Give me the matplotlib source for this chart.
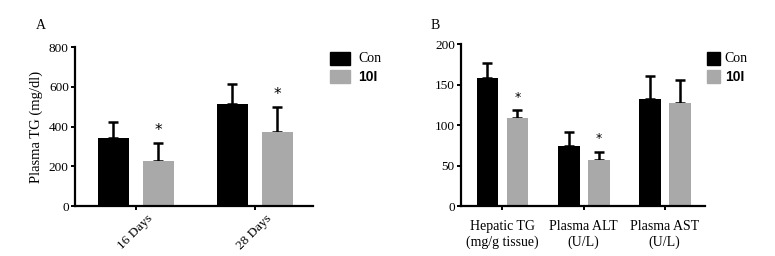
import matplotlib
matplotlib.use("Agg")
import matplotlib.pyplot as plt
import numpy as np

# panel A data
days = ["16 Days", "28 Days"]
tg_con = [342, 513]
tg_con_err = [81, 101]
tg_10i = [226, 372]
tg_10i_err = [91, 126]

# panel B data
params = ["Hepatic TG\n(mg/g tissue)", "Plasma ALT\n(U/L)", "Plasma AST\n(U/L)"]
b_con = [158, 74, 132]
b_con_err = [18, 17, 29]
b_10i = [109, 57, 127]
b_10i_err = [9, 10, 28]
b_sig = [True, True, False]

serif = "Liberation Serif"
plt.rcParams["font.family"] = serif

fig = plt.figure(figsize=(7.75, 2.56), dpi=100)
axA = fig.add_axes([0.0968, 0.195, 0.307, 0.621])
axB = fig.add_axes([0.595, 0.195, 0.315, 0.633])

gray = "#a9a9a9"


def style(ax):
    for s in ["top", "right"]:
        ax.spines[s].set_visible(False)
    for s in ["left", "bottom"]:
        ax.spines[s].set_linewidth(1.6)
    ax.tick_params(width=1.4, length=3, labelsize=9.5, pad=1.5)


def bars(ax, con, con_err, tr, tr_err, w, off):
    x = np.arange(len(con))
    ekw = dict(elinewidth=1.8, capsize=3.5, capthick=1.8, ecolor="black")
    ax.bar(x - off, con, w, color="black", zorder=2)
    ax.bar(x + off, tr, w, color=gray, zorder=2)
    ax.errorbar(x - off, con, yerr=[np.zeros(len(con)), con_err], fmt="none", zorder=1, **ekw)
    ax.errorbar(x + off, tr, yerr=[np.zeros(len(tr)), tr_err], fmt="none", zorder=1, **ekw)
    return x


# panel A
x = bars(axA, tg_con, tg_con_err, tg_10i, tg_10i_err, 0.26, 0.19)
axA.set_xlim(-0.51, 1.49)
axA.set_ylim(0, 800)
axA.set_yticks([0, 200, 400, 600, 800])
axA.set_xticks(x)
axA.set_xticklabels(days, rotation=45, ha="center")
axA.set_ylabel("Plasma TG (mg/dl)", fontsize=10.5)
for i in range(len(days)):
    axA.text(x[i] + 0.19, tg_10i[i] + tg_10i_err[i] + 25, "*", ha="center",
             va="bottom", fontsize=11, fontfamily="DejaVu Sans")
style(axA)
fig.text(0.046, 0.885, "A", fontsize=10)

# panel B
x = bars(axB, b_con, b_con_err, b_10i, b_10i_err, 0.27, 0.185)
axB.set_xlim(-0.51, 2.5)
axB.set_ylim(0, 200)
axB.set_yticks([0, 50, 100, 150, 200])
axB.set_xticks(x)
axB.set_xticklabels(params)
for i in range(len(params)):
    if b_sig[i]:
        axB.text(x[i] + 0.185, b_10i[i] + b_10i_err[i] + 8, "*", ha="center",
                 va="bottom", fontsize=9, fontfamily="DejaVu Sans")
style(axB)
axB.tick_params(axis="x", pad=7, labelsize=10)
fig.text(0.556, 0.885, "B", fontsize=10)

# legends
for lx, lw, tx in [(0.426, 0.025, 0.462), (0.912, 0.0165, 0.935)]:
    fig.patches.append(plt.Rectangle((lx, 0.745), lw, 0.05, color="black", transform=fig.transFigure, figure=fig))
    fig.patches.append(plt.Rectangle((lx, 0.675), lw, 0.05, color=gray, transform=fig.transFigure, figure=fig))
    fig.text(tx, 0.77, "Con", fontsize=10, va="center")
    fig.text(tx, 0.70, "10I", fontsize=10, va="center", fontfamily="Liberation Sans", fontweight="bold")

fig.savefig("out.png", dpi=100)
